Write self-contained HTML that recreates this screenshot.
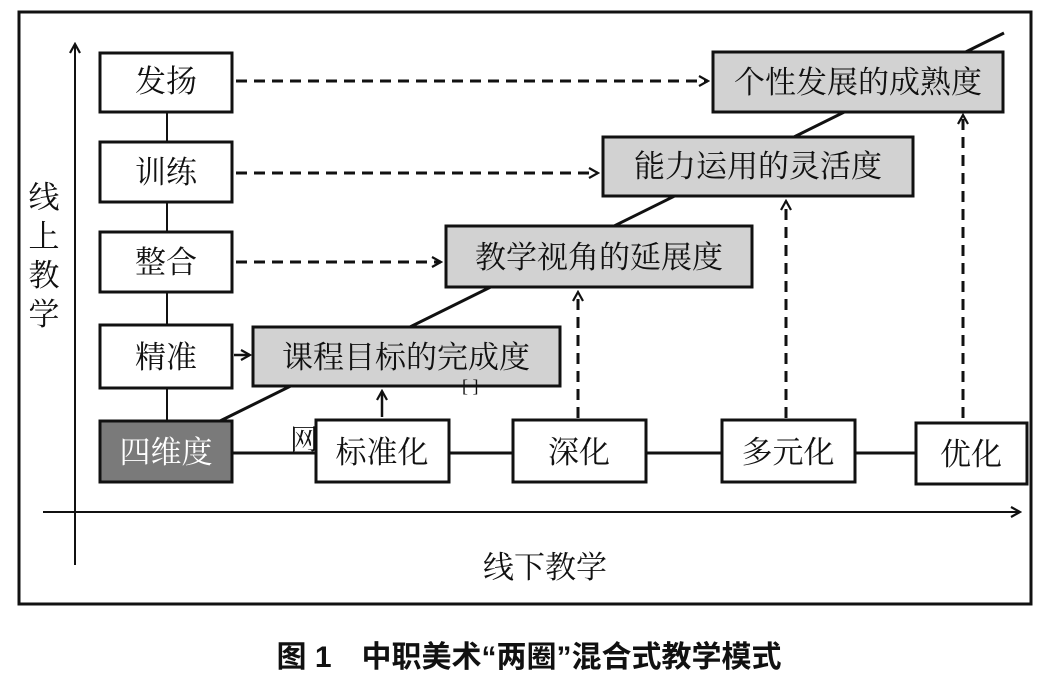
<!DOCTYPE html>
<html><head><meta charset="utf-8"><style>
html,body{margin:0;padding:0;background:#fff;}
svg text{font-family:"Liberation Serif","Noto Serif CJK SC","Noto Sans CJK SC",serif;fill:#111;}
</style></head><body>
<svg width="1041" height="672" viewBox="0 0 1041 672" xmlns="http://www.w3.org/2000/svg">
<defs>
<marker id="ah" markerWidth="12" markerHeight="12" refX="10" refY="6" orient="auto" markerUnits="userSpaceOnUse">
<path d="M1,1 L10,6 L1,11" fill="none" stroke="#111" stroke-width="2.2"/>
</marker>
</defs>
<rect x="19" y="12" width="1012" height="592" fill="none" stroke="#111" stroke-width="3"/>
<line x1="75" y1="565" x2="75" y2="44" stroke="#111" stroke-width="2" marker-end="url(#ah)"/>
<line x1="43" y1="512" x2="1020" y2="512" stroke="#111" stroke-width="2" marker-end="url(#ah)"/>
<line x1="220" y1="421" x2="1004" y2="33" stroke="#111" stroke-width="3"/>
<line x1="167" y1="112" x2="167" y2="421" stroke="#111" stroke-width="2"/>
<line x1="232" y1="453" x2="916" y2="453" stroke="#111" stroke-width="3"/>
<g stroke="#111" stroke-width="3" fill="#fff">
<rect x="100" y="53" width="132" height="59"/>
<rect x="100" y="142" width="132" height="60"/>
<rect x="100" y="232" width="132" height="60"/>
<rect x="100" y="325" width="132" height="63"/>
<rect x="100" y="421" width="132" height="61" fill="#7a7a7a"/>
</g>
<g stroke="#111" stroke-width="3" fill="#d2d2d2">
<rect x="253" y="327" width="307" height="59"/>
<rect x="446" y="226" width="306" height="61"/>
<rect x="603" y="137" width="310" height="59"/>
<rect x="713" y="52" width="290" height="60"/>
</g>
<g stroke="#111" stroke-width="3" fill="#fff">
<rect x="316" y="420" width="133" height="62"/>
<rect x="513" y="420" width="133" height="62"/>
<rect x="722" y="420" width="133" height="62"/>
<rect x="916" y="423" width="111" height="61"/>
</g>
<g stroke="#111" stroke-width="3" stroke-dasharray="11,7" fill="none">
<line x1="236" y1="81" x2="708" y2="81" marker-end="url(#ah)"/>
<line x1="236" y1="173" x2="598" y2="173" marker-end="url(#ah)"/>
<line x1="236" y1="262" x2="441" y2="262" marker-end="url(#ah)"/>
<line x1="578" y1="418" x2="578" y2="292" marker-end="url(#ah)"/>
<line x1="786" y1="418" x2="786" y2="201" marker-end="url(#ah)"/>
<line x1="963" y1="418" x2="963" y2="115" marker-end="url(#ah)"/>
</g>
<line x1="234" y1="355" x2="250" y2="355" stroke="#111" stroke-width="2.5" marker-end="url(#ah)"/>
<line x1="382" y1="417" x2="382" y2="391" stroke="#111" stroke-width="2.5" marker-end="url(#ah)"/>
<g font-size="31" text-anchor="middle">
<text x="166" y="92">发扬</text>
<text x="166" y="183">训练</text>
<text x="166" y="273">整合</text>
<text x="166" y="368">精准</text>
<text x="166" y="463" style="fill:#fff">四维度</text>
<text x="406" y="368">课程目标的完成度</text>
<text x="599" y="268">教学视角的延展度</text>
<text x="758" y="177">能力运用的灵活度</text>
<text x="858" y="93">个性发展的成熟度</text>
<text x="382" y="463">标准化</text>
<text x="579" y="463">深化</text>
<text x="788" y="463">多元化</text>
<text x="971" y="465">优化</text>
<text x="545" y="578">线下教学</text>
</g>
<text x="290" y="449" font-size="28">网</text>
<text x="462" y="392" font-size="18">[ ]</text>
<g font-size="31" text-anchor="middle">
<text x="44" y="208">线</text>
<text x="44" y="247">上</text>
<text x="44" y="286">教</text>
<text x="44" y="325">学</text>
</g>
<text x="529" y="667" font-size="30" font-weight="bold" text-anchor="middle" style="font-family:'Liberation Sans','Noto Sans CJK SC',sans-serif">图 1　中职美术“两圈”混合式教学模式</text>
</svg>
</body></html>
